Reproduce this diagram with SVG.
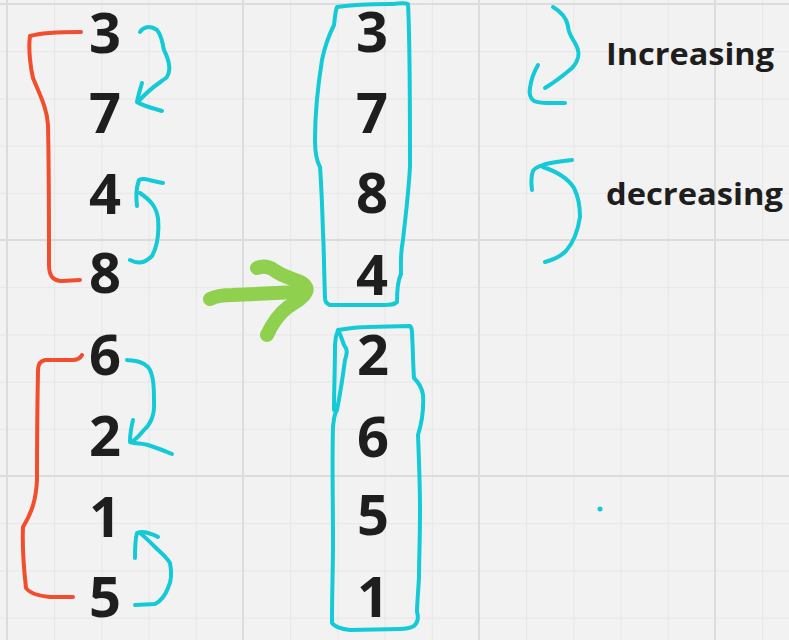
<svg xmlns="http://www.w3.org/2000/svg" width="789" height="640" viewBox="0 0 789 640">
<defs>
<pattern id="grid" patternUnits="userSpaceOnUse" x="7" y="4" width="47.2" height="47.2">
<path d="M0 0V47.2M0 0H47.2" fill="none" stroke="#e6e6e6" stroke-width="2"/>
</pattern>
</defs>
<style>
.num{font-family:"Open Sans","Noto Sans",sans-serif;font-weight:700;font-size:56px;fill:#1e1e1e;text-anchor:middle}
.lbl{font-family:"Open Sans","Noto Sans",sans-serif;font-weight:700;font-size:31px;fill:#1e1e1e}
.red{fill:none;stroke:#f24d2c;stroke-width:4;stroke-linecap:round;stroke-linejoin:round}
.cy{fill:none;stroke:#14cad6;stroke-width:4;stroke-linecap:round;stroke-linejoin:round}
.gr{fill:none;stroke:#8fd14f;stroke-width:14;stroke-linecap:round;stroke-linejoin:round}
.major{stroke:#dcdcdc;stroke-width:2}
</style>
<rect width="789" height="640" fill="#f2f2f2"/>
<rect width="789" height="640" fill="url(#grid)"/>
<g class="major">
<line x1="7" y1="0" x2="7" y2="640"/><line x1="243" y1="0" x2="243" y2="640"/><line x1="479" y1="0" x2="479" y2="640"/><line x1="715" y1="0" x2="715" y2="640"/>
<line x1="0" y1="4" x2="789" y2="4"/><line x1="0" y1="240" x2="789" y2="240"/><line x1="0" y1="476" x2="789" y2="476"/>
</g>
<g id="left-top">
<text class="num" x="105" y="53">3</text>
<text class="num" x="105" y="133">7</text>
<text class="num" x="105" y="214">4</text>
<text class="num" x="105" y="293">8</text>
</g>
<g id="left-bottom">
<text class="num" x="105" y="375">6</text>
<text class="num" x="105" y="456">2</text>
<text class="num" x="105" y="537">1</text>
<text class="num" x="105" y="617">5</text>
</g>
<g id="mid-top">
<text class="num" x="372" y="52">3</text>
<text class="num" x="372" y="133">7</text>
<text class="num" x="372" y="213">8</text>
<text class="num" x="372" y="295">4</text>
</g>
<g id="mid-bottom">
<text class="num" x="373" y="375">2</text>
<text class="num" x="373" y="457">6</text>
<text class="num" x="373" y="535">5</text>
<text class="num" x="373" y="617">1</text>
</g>
<g id="labels">
<text class="lbl" x="606" y="65" textLength="168" lengthAdjust="spacingAndGlyphs">Increasing</text>
<text class="lbl" x="606" y="205" textLength="177" lengthAdjust="spacingAndGlyphs">decreasing</text>
</g>
<g id="connectors">
<path class="red" d="M81 32C60 32 40 33 30 36C28 50 31 70 33 78C40 95 47 108 48 125C49 170 49 230 49 265C49 276 53 281 62 281L80 280"/>
<path class="red" d="M82 355C80 359 77 360 72 360L45 360C40 361 38 364 38 370C37 420 37 460 37 480C36 500 32 512 23 527C22 550 24 570 26 588C30 594 40 596 50 597L73 597"/>
<path class="cy" d="M140 32C143 27 150 25 157 30C162 36 162 42 164 50C170 62 171 72 166 78C158 84 150 88 138 102M142 83C140 90 138 96 137 102C143 106 152 108 162 111"/>
<path class="cy" d="M130 260C136 263 143 265 152 256C158 245 159 230 158 218C156 206 150 200 140 193M137 206C136 198 136 188 139 180C144 177 150 181 163 183"/>
<path class="cy" d="M127 360C135 361 142 361 148 367C154 374 154 390 154 402C155 415 150 425 144 430C140 435 136 439 132 442M133 420C131 428 130 435 130 442C136 444 142 443 148 445C157 448 165 451 172 454"/>
<path class="cy" d="M135 605L155 604C161 601 165 596 168 588C172 580 172 573 170 563C166 556 160 552 154 546C148 540 144 536 140 533M135 558C135 548 135 540 137 533C141 531 145 532 148 533C152 534 155 535 158 537"/>
<path class="cy" d="M553 7C560 11 566 16 568 26C568 34 574 40 577 47C580 54 578 62 572 68C565 74 555 82 545 88M538 65C534 72 531 80 530 88C529 93 530 98 534 101C540 104 552 103 565 103"/>
<path class="cy" d="M545 262C553 260 560 257 566 251C574 242 578 230 580 217C580 205 578 196 574 188C569 180 558 172 543 167M532 190C531 182 531 176 533 171C535 167 540 166 546 164C554 162 563 161 572 160"/>
<path class="cy" d="M337 7C350 5 370 4 390 4C398 4 403 2 408 4C410 40 410 100 410 167C408 200 405 220 403 240C400 255 401 268 401 274C398 280 397 290 397 302C394 305 390 305 385 305L330 305C327 304 325 302 325 298C324 270 324 250 323 233C322 200 321 180 320 167C316 160 315 150 315 140C315 110 318 85 322 60C325 45 330 33 334 25C335 18 335 12 337 7Z"/>
<path class="cy" d="M338 330C350 328 360 327 367 327L410 326C412 328 412 330 412 333C413 350 413 365 414 378C418 382 422 387 423 395C424 410 422 422 418 435C419 460 420 490 420 510C420 540 419 560 419 577C418 595 417 605 417 612C419 618 418 622 414 626C408 629 403 629 400 629L350 630C340 629 335 627 332 623C332 590 333 570 333 543C333 500 332 460 333 427C334 418 334 414 337 410C341 390 343 375 345 360C347 353 348 350 344 345C342 340 341 335 338 330ZM338 330C336 335 335 340 335 345C335 370 334 390 334 410"/>
<path class="gr" d="M210 299C216 296 222 295 232 295L297 292"/>
<path class="gr" d="M257 268C262 266 268 266 274 270C280 275 287 277 298 281C305 284 308 288 306 292C303 298 296 302 288 307C280 313 273 322 267 335"/>
<circle cx="600" cy="509" r="2.5" fill="#14cad6"/>
</g>
</svg>
